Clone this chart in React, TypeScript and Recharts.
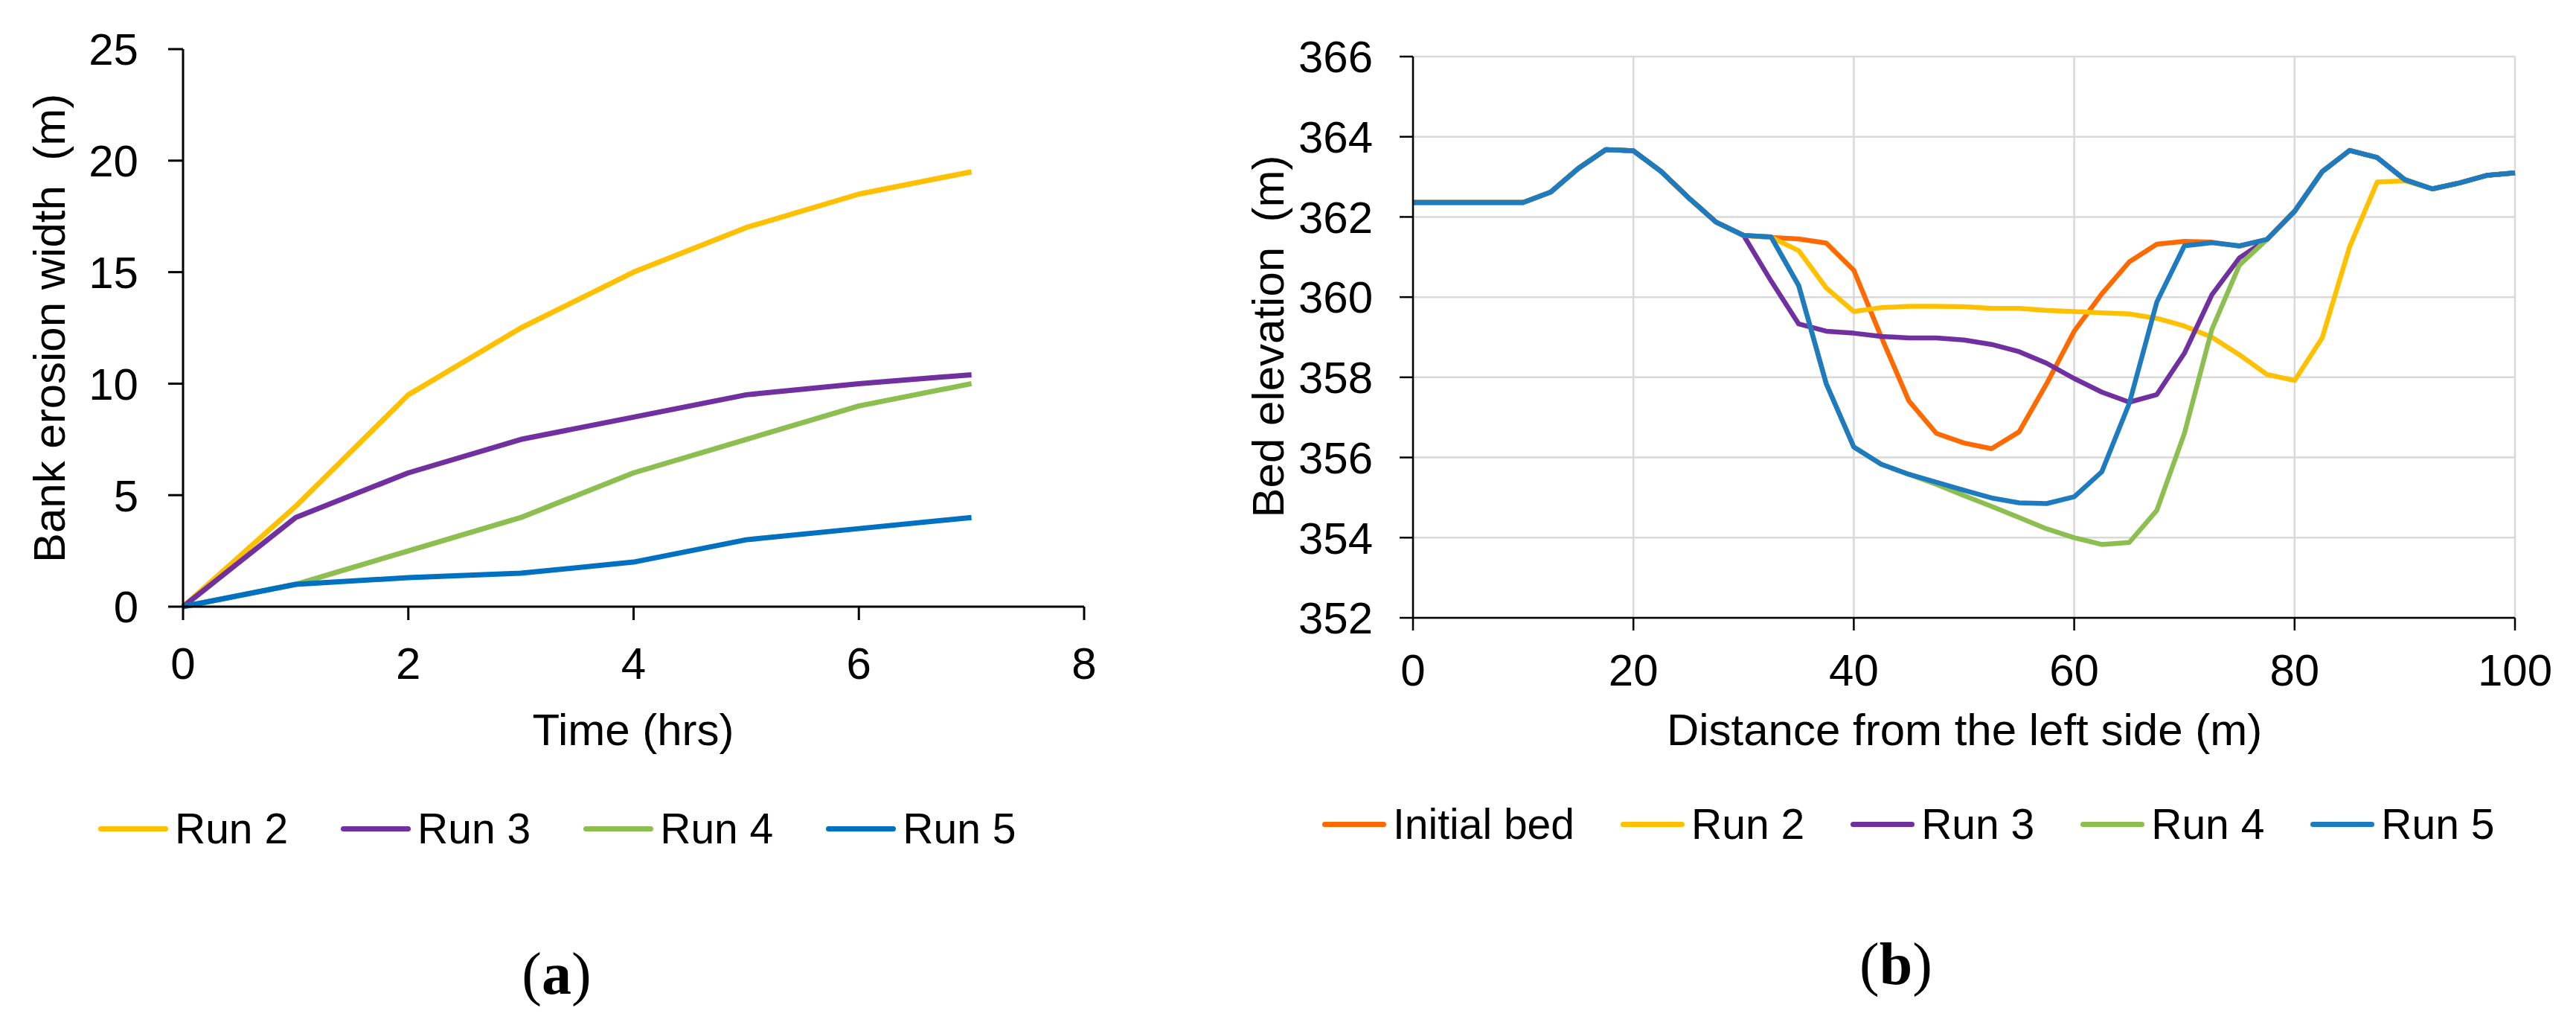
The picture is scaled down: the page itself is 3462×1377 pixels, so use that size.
import React from "react";
import { LineChart, Line, XAxis, YAxis, CartesianGrid, Label } from "recharts";

const FONT = "'Liberation Sans', Arial, sans-serif";
const SERIF = "'Liberation Serif', 'Times New Roman', serif";

// (a) bank erosion width over time
const hours = [0, 1, 2, 3, 4, 5, 6, 7];
const erosionRun2 = [0, 4.5, 9.5, 12.5, 15, 17, 18.5, 19.5];
const erosionRun3 = [0, 4, 6, 7.5, 8.5, 9.5, 10, 10.4];
const erosionRun4 = [0, 1, 2.5, 4, 6, 7.5, 9, 10];
const erosionRun5 = [0, 1, 1.3, 1.5, 2, 3, 3.5, 4];
const timeTicks = [0, 2, 4, 6, 8];
const widthTicks = [0, 5, 10, 15, 20, 25];

// (b) cross-section bed elevation
const distance = [
  0, 2.5, 5, 7.5, 10, 12.5, 15, 17.5, 20, 22.5, 25, 27.5, 30, 32.5, 35, 37.5, 40, 42.5, 45, 47.5, 50,
  52.5, 55, 57.5, 60, 62.5, 65, 67.5, 70, 72.5, 75, 77.5, 80, 82.5, 85, 87.5, 90, 92.5, 95, 97.5, 100,
];
const bedInitial = [
  362.36, 362.36, 362.36, 362.36, 362.36, 362.62, 363.21, 363.68, 363.65, 363.14, 362.48, 361.87, 361.54,
  361.49, 361.45, 361.35, 360.67, 359.0, 357.41, 356.6, 356.36, 356.22, 356.64, 357.84, 359.15, 360.08,
  360.88, 361.32, 361.39, 361.37, 361.27, 361.44, 362.14, 363.13, 363.66, 363.48, 362.93, 362.7, 362.85,
  363.04, 363.1,
];
const bedRun2 = [
  362.36, 362.36, 362.36, 362.36, 362.36, 362.62, 363.21, 363.68, 363.65, 363.14, 362.48, 361.87, 361.54,
  361.49, 361.16, 360.23, 359.64, 359.74, 359.77, 359.77, 359.76, 359.72, 359.72, 359.67, 359.64, 359.61,
  359.58, 359.47, 359.28, 359.0, 358.56, 358.07, 357.92, 358.98, 361.26, 362.87, 362.9, 362.7, 362.85,
  363.04, 363.1,
];
const bedRun3 = [
  362.36, 362.36, 362.36, 362.36, 362.36, 362.62, 363.21, 363.68, 363.65, 363.14, 362.48, 361.87, 361.54,
  360.4, 359.33, 359.15, 359.1, 359.02, 358.98, 358.98, 358.93, 358.82, 358.64, 358.35, 357.97, 357.63,
  357.38, 357.57, 358.6, 360.06, 360.98, 361.44, 362.14, 363.13, 363.66, 363.48, 362.93, 362.7, 362.85,
  363.04, 363.1,
];
const bedRun4 = [
  362.36, 362.36, 362.36, 362.36, 362.36, 362.62, 363.21, 363.68, 363.65, 363.14, 362.48, 361.87, 361.54,
  361.5, 360.29, 357.84, 356.26, 355.83, 355.58, 355.33, 355.05, 354.78, 354.5, 354.22, 354.0, 353.83,
  353.88, 354.68, 356.6, 359.2, 360.8, 361.44, 362.14, 363.13, 363.66, 363.48, 362.93, 362.7, 362.85,
  363.04, 363.1,
];
const bedRun5 = [
  362.36, 362.36, 362.36, 362.36, 362.36, 362.62, 363.21, 363.68, 363.65, 363.14, 362.48, 361.87, 361.54,
  361.5, 360.29, 357.84, 356.26, 355.83, 355.58, 355.38, 355.18, 354.99, 354.87, 354.85, 355.02, 355.64,
  357.35, 359.88, 361.28, 361.36, 361.28, 361.44, 362.14, 363.13, 363.66, 363.48, 362.93, 362.7, 362.85,
  363.04, 363.1,
];
const distanceTicks = [0, 20, 40, 60, 80, 100];
const elevationTicks = [352, 354, 356, 358, 360, 362, 364, 366];

const seriesA = [
  { key: "run2", name: "Run 2", color: "#FFC000", values: erosionRun2 },
  { key: "run3", name: "Run 3", color: "#7030A0", values: erosionRun3 },
  { key: "run4", name: "Run 4", color: "#8CBE50", values: erosionRun4 },
  { key: "run5", name: "Run 5", color: "#0070C0", values: erosionRun5 },
];

const seriesB = [
  { key: "initial", name: "Initial bed", color: "#FF6A00", values: bedInitial },
  { key: "run2", name: "Run 2", color: "#FFC000", values: bedRun2 },
  { key: "run3", name: "Run 3", color: "#7030A0", values: bedRun3 },
  { key: "run4", name: "Run 4", color: "#8CBE50", values: bedRun4 },
  { key: "run5", name: "Run 5", color: "#1F7BC0", values: bedRun5 },
];

const dataA = hours.map((h, i) => {
  const row: Record<string, number> = { hours: h };
  seriesA.forEach((s) => (row[s.key] = s.values[i]));
  return row;
});

const dataB = distance.map((d, i) => {
  const row: Record<string, number> = { distance: d };
  seriesB.forEach((s) => (row[s.key] = s.values[i]));
  return row;
});

const tickStyle = { fill: "#000", fontSize: 60, fontFamily: FONT };
const axisStroke = { stroke: "#000", strokeWidth: 3 };

function AxisTitle({ x, y, text, vertical }: { x: number; y: number; text: string; vertical?: boolean }) {
  return (
    <text
      transform={`translate(${x},${y})${vertical ? " rotate(-90)" : ""}`}
      textAnchor="middle"
      fill="#000"
      fontSize={60}
      fontFamily={FONT}
      style={{ whiteSpace: "pre" }}
    >
      {text}
    </text>
  );
}

function SeriesLegend({ items, left, top, lineWidth, gap }: any) {
  return (
    <div
      style={{
        position: "absolute",
        left,
        top,
        display: "flex",
        alignItems: "center",
        gap,
        fontFamily: FONT,
        fontSize: 57,
        lineHeight: "64px",
        whiteSpace: "nowrap",
        color: "#000",
      }}
    >
      {items.map((s: any) => (
        <div key={s.key} style={{ display: "flex", alignItems: "center" }}>
          <span
            style={{ display: "inline-block", width: lineWidth, height: 7, borderRadius: 4, background: s.color, marginRight: 9 }}
          />
          <span>{s.name}</span>
        </div>
      ))}
    </div>
  );
}

function PanelTag({ letter, x, top }: { letter: string; x: number; top: number }) {
  return (
    <div
      style={{
        position: "absolute",
        left: x,
        top,
        transform: "translateX(-50%)",
        fontFamily: SERIF,
        fontSize: 80,
        lineHeight: "80px",
        color: "#000",
      }}
    >
      (<b>{letter}</b>)
    </div>
  );
}

export default function App() {
  return (
    <div
      style={{
        position: "relative",
        width: 3462,
        height: 1377,
        marginLeft: -8,
        marginTop: -8,
        background: "#fff",
        overflow: "hidden",
      }}
    >
      <LineChart
        width={1560}
        height={1060}
        data={dataA}
        margin={{ top: 66, right: 103, bottom: 145, left: 0 }}
        style={{ position: "absolute", left: 0, top: 0 }}
      >
        <XAxis
          dataKey="hours"
          type="number"
          domain={[0, 8]}
          ticks={timeTicks}
          interval={0}
          height={100}
          tick={tickStyle}
          tickSize={18}
          tickMargin={36}
          axisLine={axisStroke}
          tickLine={axisStroke}
        >
          <Label content={() => <AxisTitle x={851} y={1001} text="Time (hrs)" />} />
        </XAxis>
        <YAxis
          type="number"
          domain={[0, 25]}
          ticks={widthTicks}
          interval={0}
          width={246}
          tick={tickStyle}
          tickSize={20}
          tickMargin={40}
          axisLine={axisStroke}
          tickLine={axisStroke}
        >
          <Label content={() => <AxisTitle x={87} y={441} vertical text="Bank erosion width  (m)" />} />
        </YAxis>
        {seriesA.map((s) => (
          <Line
            key={s.key}
            dataKey={s.key}
            name={s.name}
            stroke={s.color}
            strokeWidth={7}
            strokeLinejoin="round"
            dot={false}
            activeDot={false}
            isAnimationActive={false}
          />
        ))}
      </LineChart>

      <LineChart
        width={1822}
        height={1060}
        data={dataB}
        margin={{ top: 76, right: 82, bottom: 130, left: 0 }}
        style={{ position: "absolute", left: 1640, top: 0 }}
      >
        <CartesianGrid stroke="#d9d9d9" strokeWidth={2.5} />
        <XAxis
          dataKey="distance"
          type="number"
          domain={[0, 100]}
          ticks={distanceTicks}
          interval={0}
          height={100}
          tick={tickStyle}
          tickSize={17}
          tickMargin={31}
          axisLine={{ stroke: "#000", strokeWidth: 2.5 }}
          tickLine={{ stroke: "#000", strokeWidth: 2.5 }}
        >
          <Label content={() => <AxisTitle x={1000} y={1001} text="Distance from the left side (m)" />} />
        </XAxis>
        <YAxis
          type="number"
          domain={[352, 366]}
          ticks={elevationTicks}
          interval={0}
          width={259}
          tick={tickStyle}
          tickSize={18}
          tickMargin={36}
          axisLine={{ stroke: "#000", strokeWidth: 2.5 }}
          tickLine={{ stroke: "#000", strokeWidth: 2.5 }}
        >
          <Label content={() => <AxisTitle x={85} y={452} vertical text="Bed elevation  (m)" />} />
        </YAxis>
        {seriesB.map((s) => (
          <Line
            key={s.key}
            dataKey={s.key}
            name={s.name}
            stroke={s.color}
            strokeWidth={6.5}
            strokeLinejoin="round"
            dot={false}
            activeDot={false}
            isAnimationActive={false}
          />
        ))}
      </LineChart>

      <SeriesLegend items={seriesA} left={132} top={1081} lineWidth={94} gap={71} />
      <SeriesLegend items={seriesB} left={1777} top={1075} lineWidth={86} gap={62} />

      <PanelTag letter="a" x={748} top={1268} />
      <PanelTag letter="b" x={2548} top={1255} />
    </div>
  );
}
